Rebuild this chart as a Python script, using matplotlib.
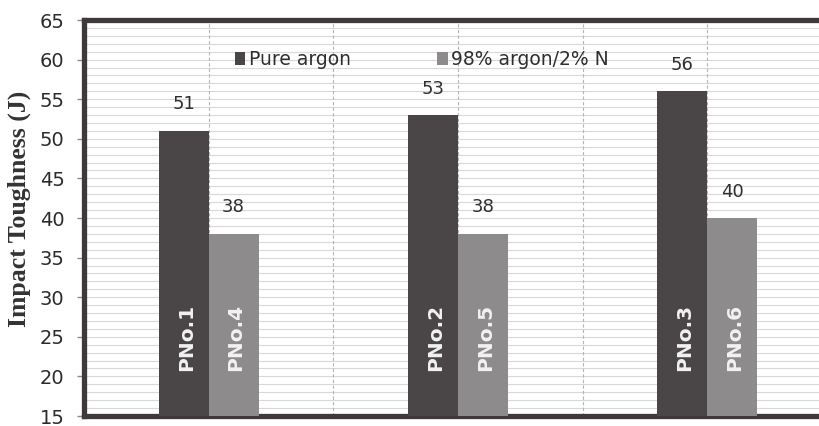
import matplotlib
matplotlib.use("Agg")
import matplotlib.pyplot as plt
import numpy as np

# Data
groups = [0, 1, 2]
pure_argon = [51, 53, 56]
argon_n2 = [38, 38, 40]
pure_names = ["PNo.1", "PNo.2", "PNo.3"]
n2_names = ["PNo.4", "PNo.5", "PNo.6"]
series_labels = ["Pure argon", "98% argon/2% N"]
y_ticks = list(range(15, 66, 5))

dark = "#4a4547"
light = "#8e8b8c"
frame = "#3f393b"

fig = plt.figure(figsize=(8.19, 4.26), dpi=100)
ax = fig.add_axes([84 / 819, 10 / 426, (832 - 84) / 819, (416 - 20) / 426])

x = np.array(groups, dtype=float)
w = 0.2
b1 = ax.bar(x - w / 2, pure_argon, width=w, color=dark, zorder=3, label=series_labels[0])
b2 = ax.bar(x + w / 2, argon_n2, width=w, color=light, zorder=3, label=series_labels[1])

ax.set_xlim(-0.5, 2.5)
ax.set_ylim(15, 65)

# grid: faint horizontal lines at every unit, dashed vertical lines
for v in range(16, 65):
    ax.axhline(v, color="#d8d8d8", lw=0.8, zorder=1)
for xv in np.arange(-0.5, 2.51, 0.5):
    ax.axvline(xv, color="#b5b5b5", lw=0.8, ls=(0, (3, 2)), zorder=1)

# value labels above bars
for bars, vals in ((b1, pure_argon), (b2, argon_n2)):
    for r, v in zip(bars, vals):
        ax.annotate(f"{v}", (r.get_x() + r.get_width() / 2, v),
                    xytext=(0, 19), textcoords="offset points",
                    ha="center", va="center", fontsize=13, color="#2e2e2e", zorder=4)

# specimen names inside bars
for bars, names in ((b1, pure_names), (b2, n2_names)):
    for r, n in zip(bars, names):
        ax.text(r.get_x() + r.get_width() / 2 + 0.01, 20.7, n, rotation=90,
                ha="center", va="bottom", fontsize=14.5, fontweight="bold",
                color="#f2f2f2", zorder=4)

# axes frame
for side in ("top", "left", "bottom"):
    ax.spines[side].set_linewidth(3.8)
    ax.spines[side].set_color(frame)
ax.spines["right"].set_visible(False)

ax.set_yticks(y_ticks)
ax.tick_params(axis="y", direction="out", length=5, width=1, color="#888888",
               labelsize=14, labelcolor="#2b2b2b", pad=9)
ax.set_xticks([])

ax.set_ylabel("Impact Toughness (J)", family="Liberation Serif", fontweight="bold",
              fontsize=18.5, color="#333333")
ax.yaxis.set_label_coords(-0.071, 0.523)

leg = ax.legend(loc="center left", bbox_to_anchor=(0.2019, 0.9), ncol=2, frameon=False,
                fontsize=13.5, handlelength=0.55, handleheight=0.75, handletextpad=0.2,
                columnspacing=4.6, borderpad=0, borderaxespad=0)
for t in leg.get_texts():
    t.set_color("#2e2e2e")

fig.savefig("out.png", dpi=100)
